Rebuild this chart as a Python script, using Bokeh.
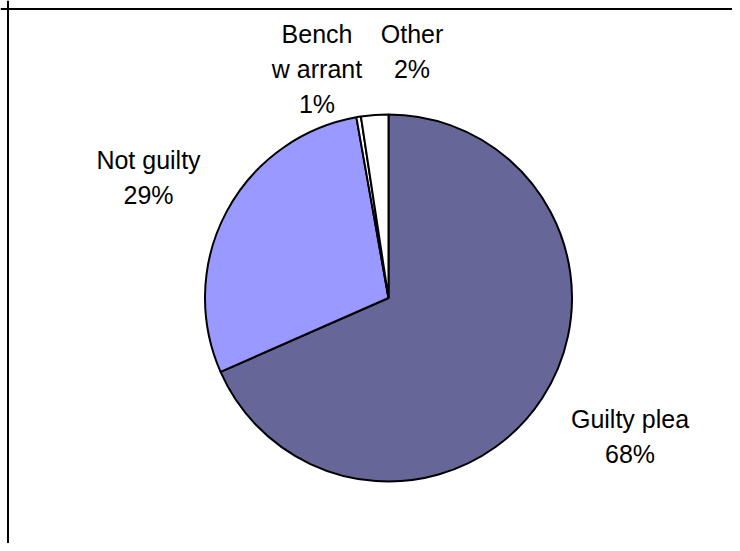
import math
from bokeh.plotting import figure
from bokeh.models import ColumnDataSource, Range1d, Span
from bokeh.core.properties import value
from bokeh.embed import file_html
from bokeh.resources import INLINE

# ---- data ----
categories = ["Guilty plea", "Not guilty", "Bench warrant", "Other"]
shares = [68.4, 28.8, 0.4, 2.4]           # slice sizes, percent
pct_labels = ["68%", "29%", "1%", "2%"]    # labels as printed
label_lines = [["Guilty plea"], ["Not guilty"], ["Bench", "w arrant"], ["Other"]]
colors = ["#666699", "#9999FF", "#FFFFFF", "#FFFFFF"]

# ---- layout (pixels; y measured upward from the bottom of the canvas) ----
W, H = 732, 543
cx, cy, R = 388, H - 297.5, 183.5
label_anchor = [(629.5, H - 418), (148, H - 159), (316.5, H - 33.5), (411.5, H - 33.5)]
line_step = 35

p = figure(width=W, height=H, output_backend="svg", toolbar_location=None,
           x_range=Range1d(0, W), y_range=Range1d(0, H),
           x_axis_type=None, y_axis_type=None, min_border=0)
p.outline_line_color = None
p.grid.visible = False
p.background_fill_color = "white"
p.border_fill_color = "white"

total = sum(shares)
starts, ends = [], []
cum = 0.0
for s in shares:
    a0 = math.pi / 2 - 2 * math.pi * cum / total
    cum += s
    a1 = math.pi / 2 - 2 * math.pi * cum / total
    starts.append(a0)
    ends.append(a1)

src = ColumnDataSource(dict(cat=categories, start=starts, end=ends, color=colors))
p.wedge(x=cx, y=cy, radius=R, start_angle="start", end_angle="end",
        direction="clock", fill_color="color", line_color="black",
        line_width=2, source=src)

tx, ty, tt = [], [], []
for (ax, ay), lines, pct in zip(label_anchor, label_lines, pct_labels):
    for i, t in enumerate(lines + [pct]):
        tx.append(ax)
        ty.append(ay - i * line_step)
        tt.append(t)
p.text(x=tx, y=ty, text=tt, text_align="center", text_baseline="middle",
       text_font=value("Liberation Sans"), text_font_size="25px", text_color="black")

# chart-area border (left and top visible)
p.add_layout(Span(location=7.5, dimension="height", line_color="black", line_width=2))
p.add_layout(Span(location=H - 8.5, dimension="width", line_color="black", line_width=2))

open("out.html", "w").write(file_html(p, INLINE))
